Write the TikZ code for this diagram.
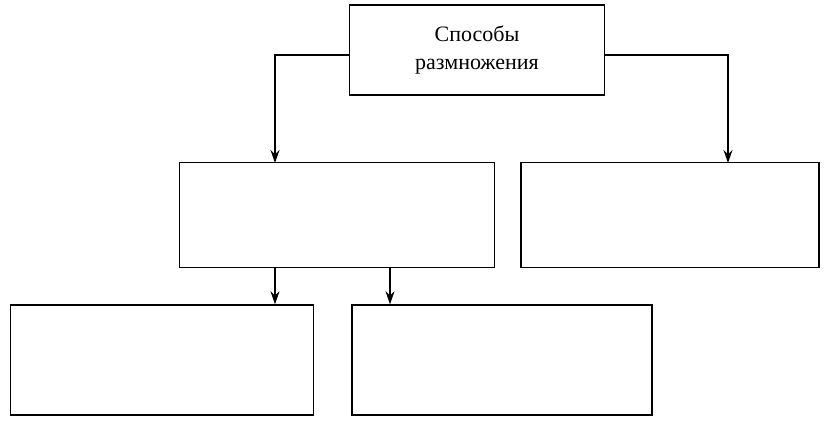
\documentclass[tikz,border=0pt]{standalone}
\usepackage{fontspec}
\setmainfont{Liberation Serif}
\usetikzlibrary{arrows.meta,positioning}

\begin{document}
\begin{tikzpicture}[x=1pt,y=-1pt,>={Stealth[length=13pt,width=9pt]},thick,
  main node/.style={rectangle,draw,line width=1.4pt,inner sep=0pt},
  link/.style={->,line width=1.2pt}]

  \useasboundingbox (0,0) rectangle (830,425);

  \node[main node, minimum width=255, minimum height=90, align=center,
        font=\fontsize{22}{28}\selectfont] (1) at (477,50) {Способы\\размножения};
  \node[main node, minimum width=315, minimum height=105] (2) at (337,215) {};
  \node[main node, minimum width=298, minimum height=105] (3) at (670,215) {};
  \node[main node, minimum width=303, minimum height=110] (4) at (162,360) {};
  \node[main node, minimum width=300, minimum height=110] (5) at (502,360) {};

  % branch points
  \coordinate (a) at (275,163);
  \coordinate (b) at (728,163);
  \coordinate (c) at (275,268);
  \coordinate (d) at (390,268);

  \draw[link] (1.west) ++(0,5) -| (a);
  \draw[link] (1.east) ++(0,5) -| (b);
  \draw[link] (c) -- (c |- 4.north);
  \draw[link] (d) -- (d |- 5.north);

\end{tikzpicture}
\end{document}
